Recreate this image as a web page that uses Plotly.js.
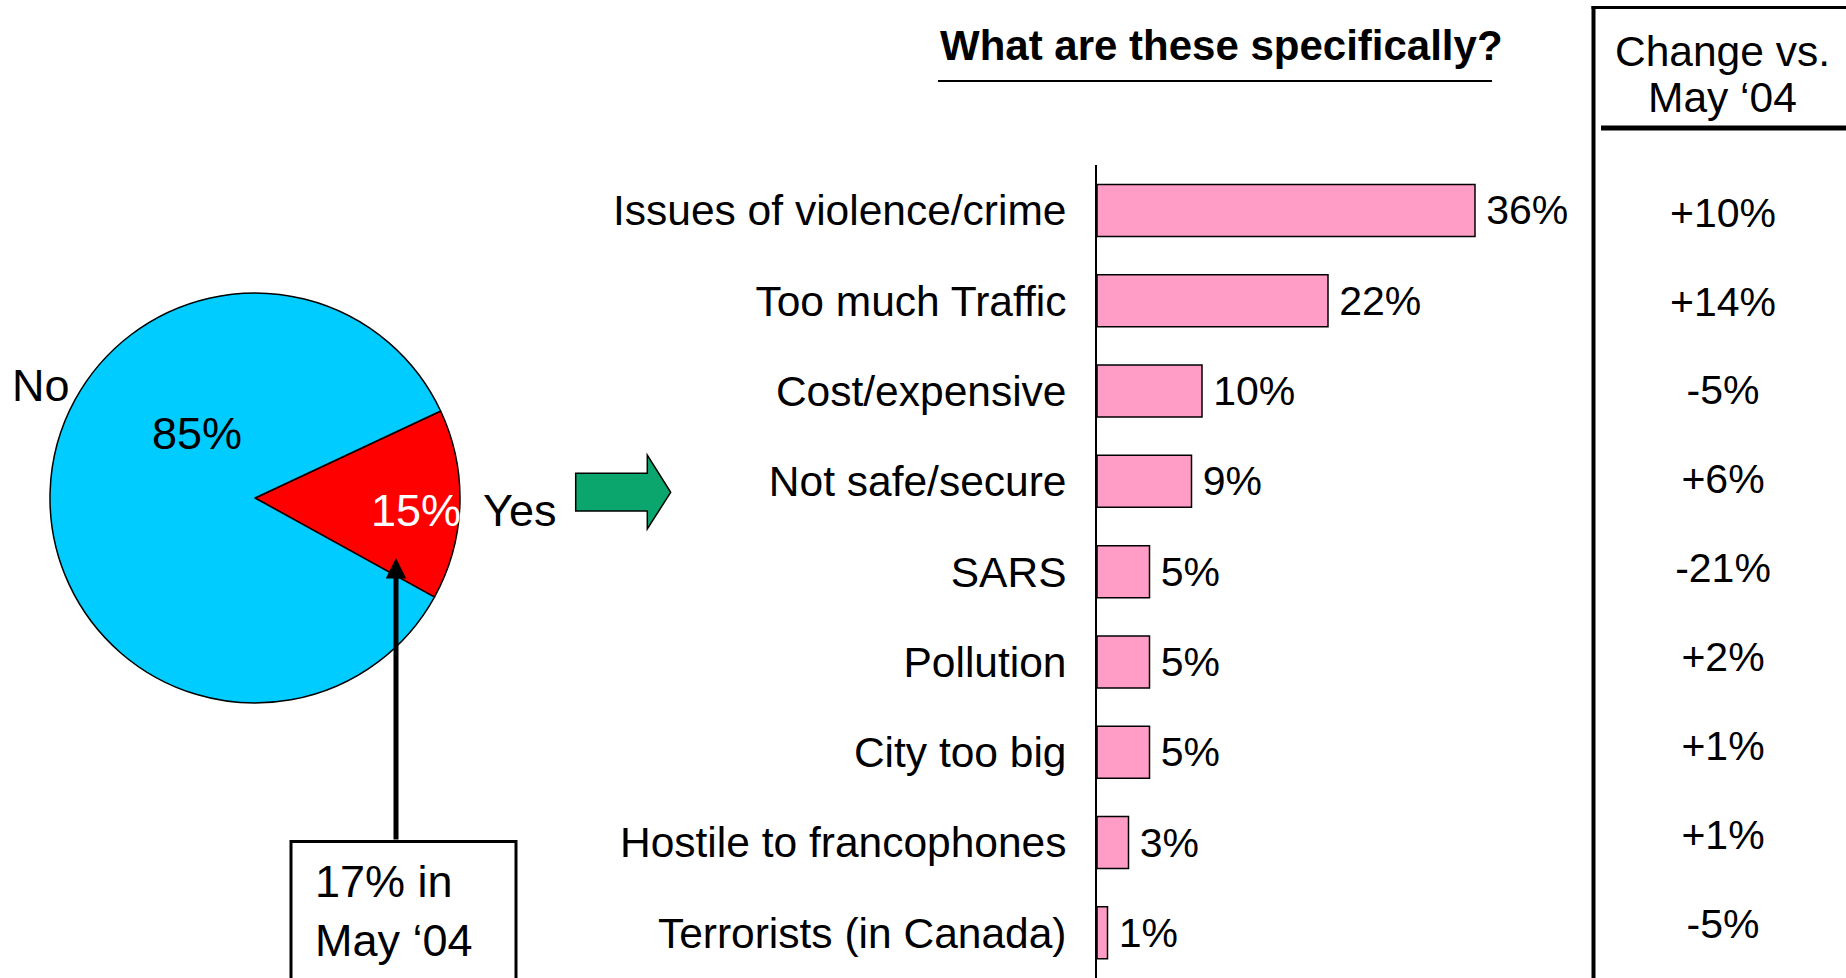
<!DOCTYPE html>
<html>
<head>
<meta charset="utf-8">
<script src="https://cdn.plot.ly/plotly-3.0.1.min.js"></script>
<style>html,body{margin:0;padding:0;background:#fff;}#chart{width:1846px;height:978px;}</style>
</head>
<body>
<div id="chart"></div>
<script>
// ---- data ----
const categories = ['Issues of violence/crime', 'Too much Traffic', 'Cost/expensive', 'Not safe/secure', 'SARS', 'Pollution', 'City too big', 'Hostile to francophones', 'Terrorists (in Canada)'];
const shares = [36, 22, 10, 9, 5, 5, 5, 3, 1];
const changes = [10, 14, -5, 6, -21, 2, 1, 1, -5];
const pieLabels = ['Yes', 'No'];
const pieValues = [15, 85];
const previousYes = 17;
const chartTitle = 'What are these specifically?';
const changeHeader = ['Change vs.', 'May ‘04'];

// ---- layout helpers (page pixels -> paper) ----
const W = 1846, H = 978;
const X = x => x / W;
const Y = y => 1 - y / H;
const FONT = 'Liberation Sans, Arial, sans-serif';

const fmtChange = v => (v > 0 ? '+' : '') + v + '%';

const traces = [
  {
    type: 'pie',
    labels: pieLabels,
    values: pieValues,
    sort: false,
    direction: 'clockwise',
    rotation: 64.9,
    textinfo: 'none',
    hoverinfo: 'label+percent',
    marker: {colors: ['#ff0000', '#00ccff'], line: {color: '#000', width: 1.5}},
    domain: {x: [X(255 - 205), X(255 + 205)], y: [Y(498 + 205), Y(498 - 205)]},
    showlegend: false
  },
  {
    type: 'bar',
    orientation: 'h',
    y: categories,
    x: shares,
    xaxis: 'x', yaxis: 'y',
    marker: {color: '#ff9dc6', line: {color: '#000', width: 1.5}},
    text: shares.map(v => '\u2009' + v + '%'),
    textposition: 'outside',
    constraintext: 'none',
    cliponaxis: false,
    textfont: {family: FONT, size: 41, color: '#000'},
    hoverinfo: 'y+x',
    showlegend: false
  },
  {
    type: 'scatter',
    mode: 'text',
    y: categories,
    x: categories.map(() => 0.5),
    xaxis: 'x2', yaxis: 'y2',
    text: changes.map(fmtChange),
    textposition: 'middle center',
    cliponaxis: false,
    textfont: {family: FONT, size: 41, color: '#000'},
    hoverinfo: 'text',
    showlegend: false
  }
];

const lineBlack = w => ({color: '#000', width: w});
const txt = (x, y, text, size, extra) => Object.assign({
  xref: 'paper', yref: 'paper', x: X(x), y: Y(y), xanchor: 'center', yanchor: 'middle',
  showarrow: false, text: text, font: {family: FONT, size: size, color: '#000'}
}, extra || {});

const layout = {
  width: W, height: H,
  margin: {l: 0, r: 0, t: 0, b: 0},
  paper_bgcolor: '#fff', plot_bgcolor: 'rgba(0,0,0,0)',
  font: {family: FONT, color: '#000'},
  bargap: 0.424,
  xaxis: {
    domain: [X(1097), X(1097 + 45 * 10.5)],
    range: [0, 45],
    visible: false,
    fixedrange: true
  },
  yaxis: {
    domain: [0, Y(165.3)],
    range: [categories.length - 0.5, -0.5],
    type: 'category',
    showline: true, linecolor: '#000', linewidth: 2,
    showgrid: false, zeroline: false,
    ticks: '',
    ticklabelstandoff: 20,
    tickfont: {family: FONT, size: 42.5, color: '#000'},
    anchor: 'x',
    fixedrange: true
  },
  xaxis2: {
    domain: [X(1600), 1],
    range: [0, 1],
    visible: false,
    anchor: 'y2',
    fixedrange: true
  },
  yaxis2: {
    domain: [Y(972), Y(172)],
    range: [categories.length - 0.5, -0.5],
    type: 'category',
    visible: false,
    anchor: 'x2',
    fixedrange: true
  },
  shapes: [
    // title underline
    {type: 'line', xref: 'paper', yref: 'paper', x0: X(938), x1: X(1492), y0: Y(81), y1: Y(81), line: lineBlack(2)},
    // change column frame
    {type: 'line', xref: 'paper', yref: 'paper', x0: X(1593.5), x1: X(1593.5), y0: Y(6), y1: Y(978), line: lineBlack(4)},
    {type: 'line', xref: 'paper', yref: 'paper', x0: X(1591.5), x1: X(1846), y0: Y(7.5), y1: Y(7.5), line: lineBlack(3)},
    {type: 'line', xref: 'paper', yref: 'paper', x0: X(1601), x1: X(1846), y0: Y(128), y1: Y(128), line: lineBlack(5)},
    // green block arrow
    {type: 'path', xref: 'paper', yref: 'paper',
     path: 'M' + X(575.7) + ',' + Y(473.3) + ' L' + X(647.3) + ',' + Y(473.3) + ' L' + X(647.3) + ',' + Y(455) +
           ' L' + X(670.7) + ',' + Y(492.3) + ' L' + X(647.3) + ',' + Y(529) + ' L' + X(647.3) + ',' + Y(511) +
           ' L' + X(575.7) + ',' + Y(511) + ' Z',
     fillcolor: '#0ba66d', line: lineBlack(1.5)},
    // callout box
    {type: 'rect', xref: 'paper', yref: 'paper', x0: X(291), x1: X(516), y0: Y(841.5), y1: Y(990), line: lineBlack(3), fillcolor: '#fff'}
  ],
  annotations: [
    txt(938, 46, '<b>' + chartTitle + '</b>', 42, {xanchor: 'left'}),
    txt(1722, 51, changeHeader[0], 42.5),
    txt(1722, 97, changeHeader[1], 42.5),
    // pie labels
    txt(41, 385, pieLabels[1], 45),
    txt(519, 510, pieLabels[0], 45),
    txt(197, 434, pieValues[1] + '%', 45),
    txt(415.5, 510, pieValues[0] + '%', 45, {font: {family: FONT, size: 45, color: '#fff'}}),
    // callout arrow
    {xref: 'paper', yref: 'paper', x: X(396), y: Y(558), ax: 0, ay: 841 - 558, axref: 'pixel', ayref: 'pixel',
     text: '', showarrow: true, arrowhead: 2, arrowsize: 0.82, arrowwidth: 5, arrowcolor: '#000', standoff: 0},
    // callout text
    txt(313, 911, previousYes + '% in<br>May ‘04', 45, {xanchor: 'left', align: 'left'})
  ]
};

Plotly.newPlot('chart', traces, layout, {displayModeBar: false});
</script>
</body>
</html>
